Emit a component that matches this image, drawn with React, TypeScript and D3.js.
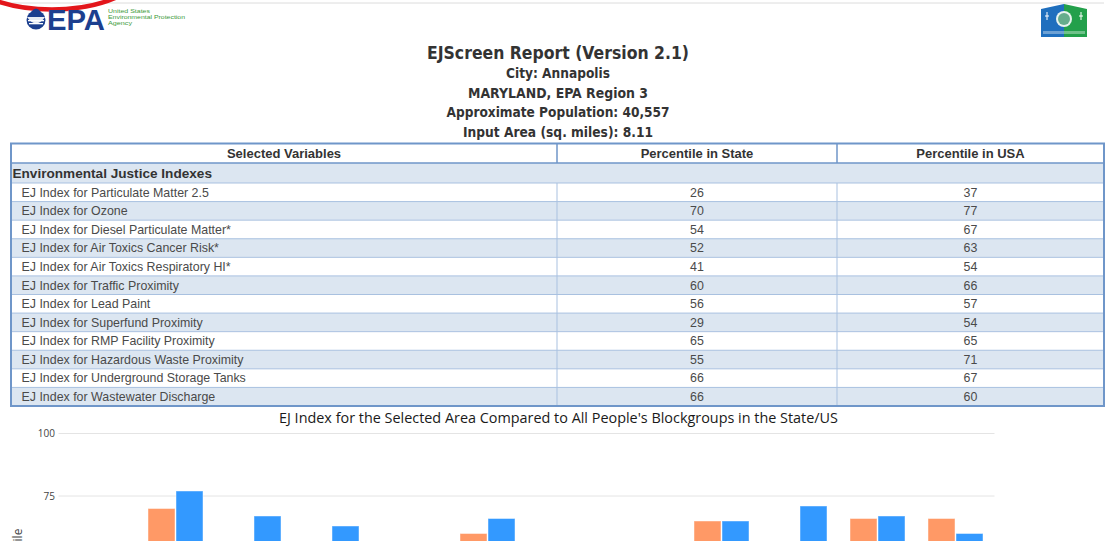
import React, { useEffect } from 'react';
import * as d3 from 'd3';

// report header
const reportTitle = 'EJScreen Report (Version 2.1)';
const subtitleLines = [
  'City: Annapolis',
  'MARYLAND, EPA Region 3',
  'Approximate Population: 40,557',
  'Input Area (sq. miles): 8.11',
];

// table
const tableHeaders = ['Selected Variables', 'Percentile in State', 'Percentile in USA'];
const sectionLabel = 'Environmental Justice Indexes';
const categories = [
  'EJ Index for Particulate Matter 2.5',
  'EJ Index for Ozone',
  'EJ Index for Diesel Particulate Matter*',
  'EJ Index for Air Toxics Cancer Risk*',
  'EJ Index for Air Toxics Respiratory HI*',
  'EJ Index for Traffic Proximity',
  'EJ Index for Lead Paint',
  'EJ Index for Superfund Proximity',
  'EJ Index for RMP Facility Proximity',
  'EJ Index for Hazardous Waste Proximity',
  'EJ Index for Underground Storage Tanks',
  'EJ Index for Wastewater Discharge',
];
const stateValues = [26, 70, 54, 52, 41, 60, 56, 29, 65, 55, 66, 66];
const usaValues = [37, 77, 67, 63, 54, 66, 57, 54, 65, 71, 67, 60];

// chart
const chartTitle = "EJ Index for the Selected Area Compared to All People's Blockgroups in the State/US";
const yTicks = [0, 25, 50, 75, 100];
const seriesKeys = ['state', 'usa'];

const W = 1106;
const H = 541;

const App: React.FC = () => {
  useEffect(() => {
    document.body.style.margin = '0';
    document.body.style.overflow = 'hidden';
  }, []);

  // table geometry
  const tLeft = 11, tRight = 1104, tTop = 143.5, headBottom = 163, secBottom = 183, tBottom = 406;
  const col1 = 557, col2 = 837;
  const rowY = d3.scaleBand<number>()
    .domain(d3.range(categories.length))
    .range([secBottom, tBottom]);

  // chart scales
  const x = d3.scaleBand<string>()
    .domain(categories)
    .range([58.5, 994.5])
    .paddingInner(0.295)
    .paddingOuter(0.1475);
  const xInner = d3.scaleBand<string>()
    .domain(seriesKeys)
    .range([0, x.bandwidth()])
    .paddingInner(0.036);
  const y = d3.scaleLinear().domain([0, 100]).range([683.5, 433.5]);
  const colors: Record<string, string> = { state: '#ff9966', usa: '#3399ff' };

  const rows = categories.map((c, i) => ({ c, i, state: stateValues[i], usa: usaValues[i] }));

  return (
    <svg width={W} height={H} style={{ position: 'absolute', left: 0, top: 0, background: '#fff' }}>
      {/* top rule and red annotation ring */}
      <line x1={0} x2={1104} y1={3} y2={3} stroke="#dcdcdc" strokeWidth={1} />
      <ellipse cx={52} cy={-42} rx={100} ry={51.5} fill="none" stroke="#e3161b" strokeWidth={4.5} />

      {/* EPA logo */}
      <g>
        <circle cx={36} cy={20} r={9.5} fill="#1c3f8f" />
        <path d="M27,17 Q36,30 45,17 Z" fill="#fff" opacity={0.9} />
        <path d="M31,12 Q36,5 41,12 Q36,17 31,12 Z" fill="#1c3f8f" />
        <rect x={28} y={20} width={16} height={1.3} fill="#fff" />
        <rect x={29} y={23} width={14} height={1.3} fill="#fff" />
        <text x={47} y={30} fontFamily="'Liberation Sans', Arial, sans-serif" fontWeight="bold"
          fontSize={29} fill="#1c3f8f" textLength={58} lengthAdjust="spacingAndGlyphs">EPA</text>
        <g fontFamily="'Liberation Sans', Arial, sans-serif" fontSize={5.6} fill="#3d9a3a">
          <text x={108} y={13.2} textLength={42} lengthAdjust="spacingAndGlyphs">United States</text>
          <text x={108} y={19} textLength={77} lengthAdjust="spacingAndGlyphs">Environmental Protection</text>
          <text x={108} y={24.8} textLength={24} lengthAdjust="spacingAndGlyphs">Agency</text>
        </g>
      </g>

      {/* EJ logo */}
      <g>
        <path d="M1041,9 L1064,4 L1064,37 L1041,37 Z" fill="#1f6fbe" />
        <path d="M1064,4 L1087,9 L1087,37 L1064,37 Z" fill="#23a04b" />
        <circle cx={1064} cy={19} r={8} fill="#e8f3ee" />
        <circle cx={1064} cy={19} r={6} fill="#2f8f62" opacity={0.7} />
        <path d="M1045,16 l4,0 M1047,12 l0,8 M1079,16 l4,0 M1081,12 l0,8" stroke="#fff" strokeWidth={1} />
        <rect x={1043} y={31} width={42} height={3} fill="#ffffff" opacity={0.35} />
      </g>

      {/* report title block */}
      <g fontFamily="Tahoma, 'DejaVu Sans Condensed', 'DejaVu Sans', sans-serif" fontWeight="bold"
        fill="#333" textAnchor="middle">
        <text x={558} y={58.5} fontSize={18} textLength={262} lengthAdjust="spacingAndGlyphs">{reportTitle}</text>
        {subtitleLines.map((s, i) => {
          const widths = [104, 180, 223, 190];
          return (
            <text key={s} x={558} y={78 + i * 19.7} fontSize={13.5}
              textLength={widths[i]} lengthAdjust="spacingAndGlyphs">{s}</text>
          );
        })}
      </g>

      {/* table */}
      <g fontFamily="'Liberation Sans', Arial, sans-serif">
        <rect x={tLeft} y={headBottom} width={tRight - tLeft} height={secBottom - headBottom} fill="#dce6f1" />
        {rows.map(r => (
          <rect key={'bg' + r.i} x={tLeft} y={rowY(r.i)} width={tRight - tLeft}
            height={rowY.bandwidth()} fill={r.i % 2 === 1 ? '#dce6f1' : '#fff'} />
        ))}
        {rows.map(r => (
          <line key={'ln' + r.i} x1={tLeft} x2={tRight} y1={(rowY(r.i) as number) + rowY.bandwidth()}
            y2={(rowY(r.i) as number) + rowY.bandwidth()} stroke="#a9c1e0" strokeWidth={1} />
        ))}
        <line x1={tLeft} x2={tRight} y1={secBottom} y2={secBottom} stroke="#a9c1e0" strokeWidth={1} />
        <line x1={col1} x2={col1} y1={secBottom} y2={tBottom} stroke="#a9c1e0" strokeWidth={1} />
        <line x1={col2} x2={col2} y1={secBottom} y2={tBottom} stroke="#a9c1e0" strokeWidth={1} />
        <line x1={col1} x2={col1} y1={tTop} y2={headBottom} stroke="#6f96c9" strokeWidth={1.5} />
        <line x1={col2} x2={col2} y1={tTop} y2={headBottom} stroke="#6f96c9" strokeWidth={1.5} />
        <line x1={tLeft} x2={tRight} y1={headBottom} y2={headBottom} stroke="#6f96c9" strokeWidth={1.5} />
        <rect x={tLeft} y={tTop} width={tRight - tLeft} height={tBottom - tTop} fill="none"
          stroke="#6f96c9" strokeWidth={2} />

        <g fontWeight="bold" fontSize={13} fill="#333" textAnchor="middle">
          <text x={(tLeft + col1) / 2} y={158}>{tableHeaders[0]}</text>
          <text x={(col1 + col2) / 2} y={158}>{tableHeaders[1]}</text>
          <text x={(col2 + tRight) / 2} y={158}>{tableHeaders[2]}</text>
        </g>
        <text x={12.5} y={178} fontWeight="bold" fontSize={13.6} fill="#333">{sectionLabel}</text>

        <g fontSize={12.4} fill="#4a4a4a">
          {rows.map(r => {
            const yb = (rowY(r.i) as number) + rowY.bandwidth() / 2 + 4.3;
            return (
              <g key={'tx' + r.i}>
                <text x={21.5} y={yb}>{r.c}</text>
                <text x={(col1 + col2) / 2} y={yb} textAnchor="middle">{r.state}</text>
                <text x={(col2 + tRight) / 2} y={yb} textAnchor="middle">{r.usa}</text>
              </g>
            );
          })}
        </g>
      </g>

      {/* chart */}
      <g fontFamily="'Open Sans', sans-serif">
        <text x={558.5} y={423} textAnchor="middle" fontSize={15} fill="#1a1a1a"
          textLength={559} lengthAdjust="spacingAndGlyphs">{chartTitle}</text>
        {yTicks.map(t => (
          <g key={t}>
            <line x1={58.5} x2={994.5} y1={y(t)} y2={y(t)} stroke="#e4e4e4" strokeWidth={1} />
            {y(t) < H - 6 && (
              <text x={55} y={y(t) + 3.5} textAnchor="end" fontSize={10} fill="#444">{t}</text>
            )}
          </g>
        ))}
        {/* axis title runs past the bottom edge, as in the page it was taken from */}
        <text transform={`translate(22,${(y(0) + y(100)) / 2 - 2}) rotate(-90)`} textAnchor="middle"
          fontSize={12} fill="#444">Percentile</text>
        {rows.map(r => (
          <g key={'bar' + r.i} transform={`translate(${x(r.c)},0)`}>
            {seriesKeys.map(k => {
              const v = k === 'state' ? r.state : r.usa;
              return (
                <rect key={k} x={xInner(k)} y={y(v)} width={xInner.bandwidth()} height={y(0) - y(v)}
                  fill={colors[k]} stroke="rgba(255,255,255,0.45)" strokeWidth={1} />
              );
            })}
          </g>
        ))}
      </g>
    </svg>
  );
};

export default App;
